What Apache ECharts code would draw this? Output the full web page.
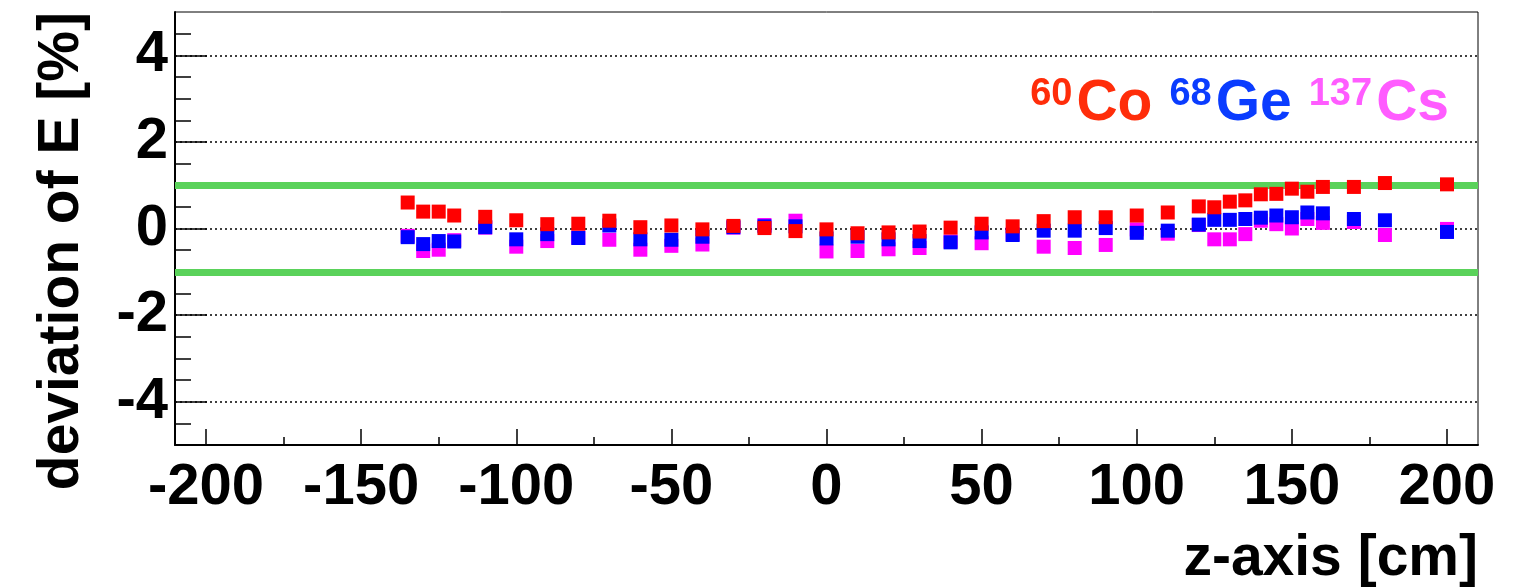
<!DOCTYPE html>
<html>
<head>
<meta charset="utf-8">
<title>deviation of E vs z</title>
<script src="https://cdn.jsdelivr.net/npm/echarts@6/dist/echarts.min.js"></script>
<style>
  html, body { margin: 0; padding: 0; background: #ffffff; }
  #chart { width: 1529px; height: 588px; }
</style>
</head>
<body>
<div id="chart"></div>
<script>
// z positions of the calibration source [cm]
const zPositions = [
  -135, -130, -125, -120, -110, -100, -90, -80, -70, -60, -50, -40, -30, -20, -10,
  0, 10, 20, 30, 40, 50, 60, 70, 80, 90, 100, 110, 120, 125, 130, 135, 140, 145,
  150, 155, 160, 170, 180, 200
];

// energy deviation [%] for each source
const devCo60 = [
  0.60, 0.39, 0.39, 0.30, 0.27, 0.19, 0.10, 0.11, 0.18, 0.03, 0.07, -0.02, 0.06, 0.01, -0.06,
  -0.02, -0.11, -0.09, -0.07, 0.02, 0.11, 0.05, 0.17, 0.26, 0.26, 0.30, 0.37, 0.51, 0.49, 0.62,
  0.65, 0.79, 0.80, 0.92, 0.85, 0.96, 0.96, 1.05, 1.02
];
const devGe68 = [
  -0.20, -0.36, -0.29, -0.30, 0.03, -0.25, -0.13, -0.22, 0.07, -0.25, -0.26, -0.19, 0.03, 0.05, 0.05,
  -0.23, -0.19, -0.25, -0.29, -0.32, -0.09, -0.15, -0.05, -0.05, 0.01, -0.10, -0.05, 0.09, 0.20, 0.20,
  0.22, 0.25, 0.30, 0.26, 0.37, 0.35, 0.22, 0.19, -0.08
];
const devCs137 = [
  -0.17, -0.52, -0.49, -0.27, 0.02, -0.42, -0.29, -0.21, -0.26, -0.49, -0.40, -0.37, 0.02, 0.08, 0.18,
  -0.53, -0.52, -0.48, -0.45, -0.30, -0.34, -0.13, -0.42, -0.45, -0.38, -0.02, -0.12, 0.08, -0.25, -0.25,
  -0.13, 0.18, 0.10, 0.00, 0.22, 0.13, 0.15, -0.15, -0.01
];

const massNumbers = ['60', '68', '137'];
const elements = ['Co', 'Ge', 'Cs'];
const markerColors = ['#ff0000', '#0000ff', '#ff00ff'];
const labelColors = ['#ff2d0a', '#0a3cff', '#ff5cff'];

// axis ranges and ticks
const xRange = [-210, 210];
const yRange = [-5, 5];
const xMajorTicks = [-200, -150, -100, -50, 0, 50, 100, 150, 200];
const xMinorTicks = [-175, -125, -75, -25, 25, 75, 125, 175];
const yMajorTicks = [-4, -2, 0, 2, 4];
const yMinorTicks = [-4.5, -3.5, -3, -2.5, -1.5, -1, -0.5, 0.5, 1, 1.5, 2.5, 3, 3.5, 4.5];

// +-1 % tolerance band
const toleranceBand = [1, -1];

const FONT = '"Liberation Sans", Arial, Helvetica, sans-serif';
const GRID = { left: 175, top: 12, width: 1303, height: 433 };

const seriesValues = [devCo60, devGe68, devCs137];
const seriesNames = massNumbers.map((m, i) => m + elements[i]);

const rich = {};
seriesNames.forEach((n, i) => {
  rich['s' + i] = {
    fontSize: 38, fontWeight: 'bold', fontFamily: FONT, color: labelColors[i],
    lineHeight: 27, verticalAlign: 'top', padding: [0, 4, 0, 0]
  };
  rich['b' + i] = {
    fontSize: 57, fontWeight: 'bold', fontFamily: FONT, color: labelColors[i],
    lineHeight: 57, verticalAlign: 'bottom'
  };
});

const series = seriesNames.map((name, i) => ({
  name,
  type: 'scatter',
  xAxisIndex: 0,
  yAxisIndex: 0,
  symbol: 'rect',
  symbolSize: 14,
  z: 4 - i,
  itemStyle: { color: markerColors[i], opacity: 1 },
  emphasis: { disabled: true },
  data: zPositions.map((z, k) => [z, seriesValues[i][k]])
}));

// tolerance lines drawn beneath the markers
series[0].markLine = {
  silent: true,
  symbol: 'none',
  z: 1,
  label: { show: false },
  lineStyle: { color: '#5ad25a', width: 7, type: 'solid' },
  emphasis: { disabled: true },
  data: toleranceBand.map(v => ({ yAxis: v }))
};

const chart = echarts.init(document.getElementById('chart'), null, { renderer: 'canvas' });

chart.setOption({
  animation: false,
  backgroundColor: '#ffffff',
  grid: Object.assign({
    show: true, borderColor: '#000', borderWidth: 1, backgroundColor: 'transparent',
    containLabel: false, outerBoundsMode: 'none'
  }, GRID),
  legend: {
    right: 80,
    top: 76,
    padding: 0,
    itemGap: 12,
    itemWidth: 0,
    itemHeight: 0,
    selectedMode: false,
    data: seriesNames,
    formatter: name => {
      const i = seriesNames.indexOf(name);
      return '{s' + i + '|' + massNumbers[i] + '}{b' + i + '|' + elements[i] + '}';
    },
    textStyle: { rich }
  },
  xAxis: [
    {
      type: 'value', min: xRange[0], max: xRange[1], position: 'bottom',
      axisLine: { show: true, onZero: false, lineStyle: { color: '#000', width: 2 } },
      axisTick: { show: true, inside: true, length: 16, customValues: xMajorTicks,
        lineStyle: { color: '#000', width: 1.5 } },
      axisLabel: { show: true, customValues: xMajorTicks, margin: 14, color: '#000',
        fontSize: 58, fontWeight: 'bold', fontFamily: FONT },
      splitLine: { show: false }
    },
    {
      // minor ticks on the same bottom edge
      type: 'value', min: xRange[0], max: xRange[1], position: 'bottom', offset: 0,
      axisLine: { show: false, onZero: false },
      axisTick: { show: true, inside: true, length: 8, customValues: xMinorTicks,
        lineStyle: { color: '#000', width: 1.5 } },
      axisLabel: { show: false },
      splitLine: { show: false }
    }
  ],
  yAxis: [
    {
      type: 'value', min: yRange[0], max: yRange[1], position: 'left',
      axisLine: { show: true, onZero: false, lineStyle: { color: '#000', width: 2 } },
      axisTick: { show: true, inside: true, length: 32, customValues: yMajorTicks,
        lineStyle: { color: '#000', width: 1.5 } },
      axisLabel: { show: true, customValues: yMajorTicks, margin: 7, color: '#000',
        fontSize: 58, fontWeight: 'bold', fontFamily: FONT },
      splitLine: { show: true, lineStyle: { color: '#000', width: 1.5, type: [2, 3] } }
    },
    {
      // minor ticks on the same left edge
      type: 'value', min: yRange[0], max: yRange[1], position: 'left', offset: 0,
      axisLine: { show: false, onZero: false },
      axisTick: { show: true, inside: true, length: 16, customValues: yMinorTicks,
        lineStyle: { color: '#000', width: 1.5 } },
      axisLabel: { show: false },
      splitLine: { show: false }
    }
  ],
  graphic: [
    {
      type: 'text',
      x: 62, y: 12,
      rotation: Math.PI / 2,
      style: {
        text: 'deviation of E [%]', fill: '#000',
        fontSize: 57, fontWeight: 'bold', fontFamily: FONT,
        align: 'right', verticalAlign: 'middle'
      }
    },
    {
      type: 'text',
      x: 1478, y: 559,
      style: {
        text: 'z-axis [cm]', fill: '#000',
        fontSize: 57, fontWeight: 'bold', fontFamily: FONT,
        align: 'right', verticalAlign: 'middle'
      }
    }
  ],
  series
});
</script>
</body>
</html>
